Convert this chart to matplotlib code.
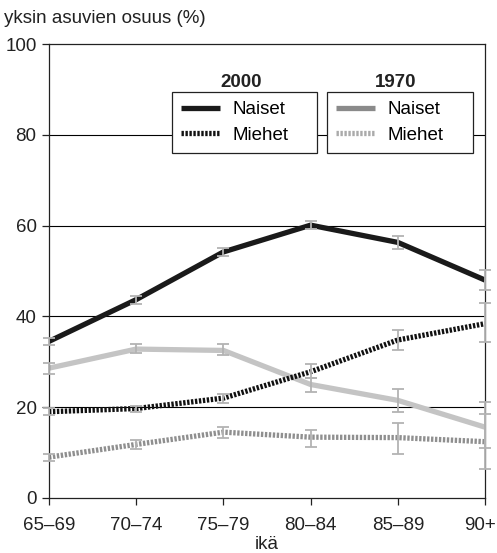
import numpy as np
import matplotlib
matplotlib.use('Agg')
import matplotlib.pyplot as plt
import matplotlib.transforms as mtransforms
from matplotlib.lines import Line2D

plt.rcParams['font.family'] = ['Liberation Sans', 'DejaVu Sans']
plt.rcParams['font.size'] = 13.5

ages = ['65\u201369', '70\u201374', '75\u201379', '80\u201384', '85\u201389', '90+']

# 2000
naiset2000 = [34.5, 43.7, 54.2, 60.1, 56.3, 48.0]
naiset2000_lo = [33.8, 42.7, 53.3, 59.2, 54.8, 45.8]
naiset2000_hi = [35.2, 44.6, 55.0, 61.1, 57.7, 50.2]
miehet2000 = [19.0, 19.7, 22.0, 27.8, 34.8, 38.4]
miehet2000_lo = [18.3, 19.0, 20.9, 26.4, 32.5, 34.4]
miehet2000_hi = [19.8, 20.3, 22.9, 29.5, 37.0, 43.0]

# 1970
naiset1970 = [28.6, 32.8, 32.5, 25.0, 21.5, 15.6]
naiset1970_lo = [27.4, 32.0, 31.4, 23.4, 19.0, 10.9]
naiset1970_hi = [29.8, 33.9, 33.9, 26.4, 24.0, 21.2]
miehet1970 = [9.0, 11.8, 14.5, 13.4, 13.3, 12.4]
miehet1970_lo = [8.1, 10.8, 13.2, 11.3, 9.7, 6.3]
miehet1970_hi = [9.6, 12.8, 15.7, 15.0, 16.6, 18.6]

x = np.arange(len(ages))
errcol = '#b3b3b3'

fig = plt.figure(figsize=(4.97, 5.53), dpi=100)
ax = fig.add_axes([0.0986, 0.0995, 0.8773, 0.8209])

ax.set_yticks([0, 20, 40, 60, 80, 100])
for g in [20, 40, 60, 80]:
    ax.axhline(g, color='black', lw=0.8, zorder=1)

lw = 3.8
ax.plot(x, naiset1970, color='#c4c4c4', lw=lw, solid_capstyle='butt', zorder=2)
ax.plot(x, miehet1970, color='#8f8f8f', lw=lw, dashes=(0.45, 0.3), dash_capstyle='butt', zorder=2)
ax.plot(x, miehet2000, color='#111111', lw=lw, dashes=(0.45, 0.3), dash_capstyle='butt', zorder=3)
ax.plot(x, naiset2000, color='#1a1a1a', lw=lw, solid_capstyle='butt', zorder=3)

for vals, lo, hi in [(naiset2000, naiset2000_lo, naiset2000_hi),
                     (miehet2000, miehet2000_lo, miehet2000_hi),
                     (naiset1970, naiset1970_lo, naiset1970_hi),
                     (miehet1970, miehet1970_lo, miehet1970_hi)]:
    v = np.array(vals)
    err = [v - np.array(lo), np.array(hi) - v]
    eb = ax.errorbar(x, v, yerr=err, fmt='none', ecolor=errcol, elinewidth=1.3,
                     capsize=4, capthick=1.3, zorder=4)
    for art in eb.lines[1]:
        art.set_clip_on(False)
    for art in eb.lines[2]:
        art.set_clip_on(False)

ax.set_xlim(0, 5)
ax.set_ylim(0, 100)
ax.set_xticks(x)
ax.set_xticklabels(ages)
ax.tick_params(direction='out', length=5, width=0.9, colors='#222222', pad=4)
ax.tick_params(axis='x', pad=9)
for s in ax.spines.values():
    s.set_linewidth(0.9)
    s.set_color('#222222')

# keep the last tick label inside the picture
last = ax.get_xticklabels()[-1]
last.set_transform(last.get_transform() + mtransforms.ScaledTranslation(-5 / 100, 0, fig.dpi_scale_trans))

fig.text(0.008, 0.958, 'yksin asuvien osuus (%)', ha='left', va='baseline', color='#222222')
ax.set_xlabel('ik\u00e4', labelpad=1, color='#222222')

h2000 = [Line2D([], [], color='#1a1a1a', lw=lw, solid_capstyle='butt'),
         Line2D([], [], color='#111111', lw=lw, dashes=(0.45, 0.3), dash_capstyle='butt')]
h1970 = [Line2D([], [], color='#8a8a8a', lw=lw, solid_capstyle='butt'),
         Line2D([], [], color='#aaaaaa', lw=lw, dashes=(0.45, 0.3), dash_capstyle='butt')]

leg_kw = dict(loc='upper left', mode='expand', frameon=True, fancybox=False,
              edgecolor='#222222', framealpha=1, handlelength=2.1,
              handletextpad=0.65, borderpad=0.5, labelspacing=0.45, borderaxespad=0)
leg1 = ax.legend(h2000, ['Naiset', 'Miehet'], bbox_to_anchor=(0.281, 0.795, 0.333, 0.1), **leg_kw)
leg1.get_frame().set_linewidth(0.9)
leg1.set_zorder(6)
ax.add_artist(leg1)
leg2 = ax.legend(h1970, ['Naiset', 'Miehet'], bbox_to_anchor=(0.637, 0.795, 0.335, 0.1), **leg_kw)
leg2.get_frame().set_linewidth(0.9)
leg2.set_zorder(6)

ax.text(0.44, 0.905, '2000', transform=ax.transAxes, ha='center', va='baseline',
        fontweight='bold', color='#222222')
ax.text(0.795, 0.905, '1970', transform=ax.transAxes, ha='center', va='baseline',
        fontweight='bold', color='#222222')

fig.savefig('out.png', dpi=100)
